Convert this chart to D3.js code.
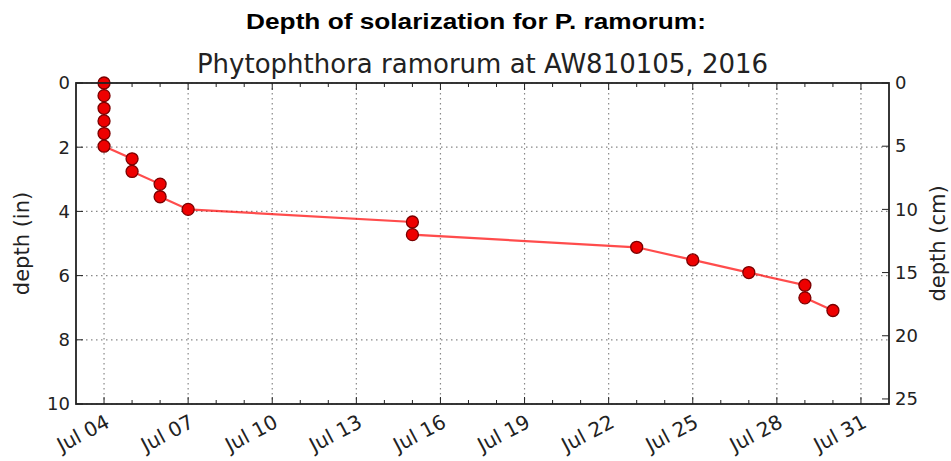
<!DOCTYPE html>
<html>
<head>
<meta charset="utf-8">
<script src="https://cdn.jsdelivr.net/npm/d3@7"></script>
<style>
  body { margin: 0; background: #fff; }
  svg { display: block; }
  text { font-family: "DejaVu Sans", sans-serif; fill: #222; }
</style>
</head>
<body>
<div id="chart"></div>
<script>
// sample dates and the depth (cm) reached by the solarization
var sampleDates = [
  "2016-07-04", "2016-07-04", "2016-07-04", "2016-07-04", "2016-07-04", "2016-07-04",
  "2016-07-05", "2016-07-05",
  "2016-07-06", "2016-07-06",
  "2016-07-07",
  "2016-07-15", "2016-07-15",
  "2016-07-23",
  "2016-07-25",
  "2016-07-27",
  "2016-07-29", "2016-07-29",
  "2016-07-30"
]
var depthCm = [0, 1, 2, 3, 4, 5, 6, 7, 8, 9, 10, 11, 12, 13, 14, 15, 16, 17, 18]
var inchTicks = [0, 2, 4, 6, 8, 10]
var cmTicks = [0, 5, 10, 15, 20, 25]
var xDomain = ["2016-07-03", "2016-08-01"]

var width = 951, height = 461
var margin = { top: 83, right: 62, bottom: 57, left: 76 }
var iw = width - margin.left - margin.right   // 813
var ih = height - margin.top - margin.bottom  // 321

var parse = d3.timeParse("%Y-%m-%d")
var data = sampleDates.map((d, i) => ({ date: parse(d), cm: depthCm[i], inch: depthCm[i] / 2.54 }))

var svg = d3.select("#chart").append("svg")
  .attr("width", width)
  .attr("height", height)

var x = d3.scaleTime().domain(xDomain.map(parse)).range([0, iw])
var y = d3.scaleLinear().domain([0, 10]).range([0, ih])
var yCm = d3.scaleLinear().domain([0, 25.4]).range([0, ih])

var g = svg.append("g").attr("transform", `translate(${margin.left},${margin.top})`)

// major (every 3 days from Jul 04) and minor (daily) x ticks
var start = parse("2016-07-04")
var minorX = d3.timeDay.range(start, parse("2016-08-01"))
var majorX = minorX.filter(d => d3.timeDay.count(start, d) % 3 === 0)

// grid
var grid = g.append("g").attr("stroke", "#888").attr("stroke-width", 1.2).attr("stroke-dasharray", "1.5,3.5")
grid.selectAll(".gx").data(majorX).join("line")
  .attr("x1", d => x(d)).attr("x2", d => x(d)).attr("y1", 0).attr("y2", ih)
grid.selectAll(".gy").data(inchTicks).join("line")
  .attr("x1", 0).attr("x2", iw).attr("y1", d => y(d)).attr("y2", d => y(d))

// ticks (pointing inward, like matplotlib classic)
var ticks = g.append("g").attr("stroke", "#222").attr("stroke-width", 1)
minorX.forEach(d => {
  var big = majorX.some(m => +m === +d)
  var len = big ? 7 : 4
  ticks.append("line").attr("x1", x(d)).attr("x2", x(d)).attr("y1", ih).attr("y2", ih - len)
  ticks.append("line").attr("x1", x(d)).attr("x2", x(d)).attr("y1", 0).attr("y2", len)
})
inchTicks.forEach(d => {
  ticks.append("line").attr("x1", 0).attr("x2", 7).attr("y1", y(d)).attr("y2", y(d))
})
cmTicks.forEach(d => {
  ticks.append("line").attr("x1", iw).attr("x2", iw - 7).attr("y1", yCm(d)).attr("y2", yCm(d))
})

// tick labels
g.append("g").selectAll("text").data(inchTicks).join("text")
  .attr("x", -6).attr("y", d => y(d)).attr("dy", "0.35em")
  .attr("text-anchor", "end").attr("font-size", 18)
  .text(d => d)

g.append("g").selectAll("text").data(cmTicks).join("text")
  .attr("x", iw + 6).attr("y", d => yCm(d)).attr("dy", "0.35em")
  .attr("text-anchor", "start").attr("font-size", 18)
  .text(d => d)

var fmt = d3.timeFormat("Jul %d")
g.append("g").selectAll("text").data(majorX).join("text")
  .attr("transform", d => `translate(${x(d)},${ih + 9}) rotate(-28)`)
  .attr("text-anchor", "end").attr("dy", "0.75em").attr("font-size", 20)
  .text(d => fmt(d))

// series
var line = d3.line().x(d => x(d.date)).y(d => y(d.inch))
g.append("path").datum(data)
  .attr("fill", "none").attr("stroke", "#ff0000").attr("stroke-opacity", 0.7).attr("stroke-width", 2.2)
  .attr("d", line)

g.append("g").selectAll("circle").data(data).join("circle")
  .attr("cx", d => x(d.date)).attr("cy", d => y(d.inch)).attr("r", 6)
  .attr("fill", "#ee0000").attr("stroke", "#7a0000").attr("stroke-width", 1.3)

// frame
g.append("rect").attr("width", iw).attr("height", ih)
  .attr("fill", "none").attr("stroke", "#222").attr("stroke-width", 1.8)

// axis titles
svg.append("text")
  .attr("transform", `translate(29,${margin.top + ih / 2}) rotate(-90)`)
  .attr("text-anchor", "middle").attr("font-size", 21)
  .text("depth (in)")
svg.append("text")
  .attr("transform", `translate(945,${margin.top + ih / 2}) rotate(-90)`)
  .attr("text-anchor", "middle").attr("font-size", 21)
  .text("depth (cm)")

// titles
svg.append("text")
  .attr("x", margin.left + iw / 2).attr("y", 73)
  .attr("text-anchor", "middle").attr("font-size", 26)
  .text("Phytophthora ramorum at AW810105, 2016")
// suptitle looks horizontally stretched in the original, so widen it a bit
svg.append("text")
  .attr("transform", "translate(476,29) scale(1.22,1)")
  .attr("text-anchor", "middle").attr("font-size", 21.5).attr("font-weight", "bold")
  .style("font-family", "'Liberation Sans', Arial, sans-serif")
  .style("fill", "#000")
  .text("Depth of solarization for P. ramorum:")
</script>
</body>
</html>
